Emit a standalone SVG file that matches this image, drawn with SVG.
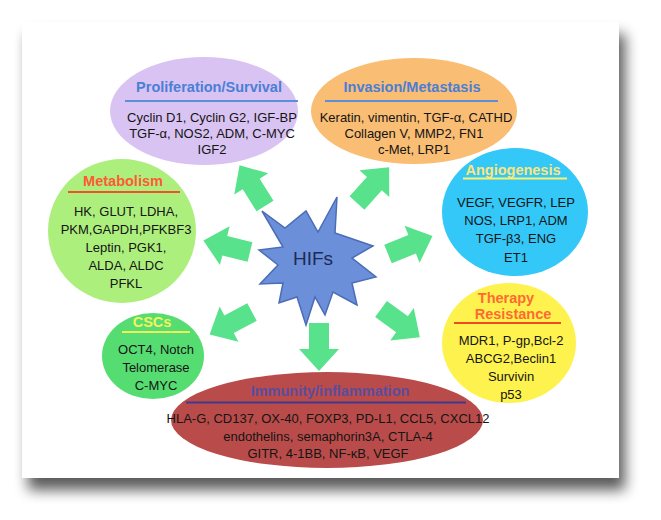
<svg xmlns="http://www.w3.org/2000/svg" width="661" height="520" viewBox="0 0 661 520">
<defs>
<style>
.t{font-family:"Liberation Sans",Arial,sans-serif;font-size:14.5px;font-weight:bold;text-anchor:middle}
.b{font-family:"Liberation Sans",Arial,sans-serif;font-size:13px;text-anchor:middle;fill:#141414}
.ul{stroke-width:2;fill:none}
.arr{fill:#58e28c}
</style>
<filter id="sh" x="-10%" y="-10%" width="125%" height="130%">
<feGaussianBlur in="SourceAlpha" stdDeviation="7"/>
<feOffset dx="6" dy="12" result="o"/>
<feComponentTransfer><feFuncA type="linear" slope="0.65"/></feComponentTransfer>
<feMerge><feMergeNode/><feMergeNode in="SourceGraphic"/></feMerge>
</filter>
<path id="arrow" d="M0,-10 L26,-10 L26,-20 L48,0 L26,20 L26,10 L0,10 Z"/>
</defs>
<rect width="661" height="520" fill="#ffffff"/>
<rect x="22" y="22" width="597" height="456" fill="#ffffff" filter="url(#sh)"/>

<g id="connectors" class="arr">
<use href="#arrow" transform="translate(265,206) rotate(-122)"/>
<use href="#arrow" transform="translate(357,203) rotate(-48)"/>
<use href="#arrow" transform="translate(250,252) rotate(-166)"/>
<use href="#arrow" transform="translate(388,254) rotate(-22)"/>
<use href="#arrow" transform="translate(252,312) rotate(152)"/>
<use href="#arrow" transform="translate(319,323) rotate(90)"/>
<use href="#arrow" transform="translate(381,309) rotate(36)"/>
</g>

<g id="proliferation">
<ellipse cx="204" cy="111" rx="94" ry="54" fill="#d9c3f3"/>
<text class="t" x="209" y="92" fill="#4a7fd6">Proliferation/Survival</text>
<line class="ul" x1="125" y1="101" x2="298" y2="101" stroke="#5b8fd8"/>
<text class="b" x="212" y="121.5">Cyclin D1, Cyclin G2, IGF-BP</text>
<text class="b" x="212" y="137.5">TGF-α, NOS2, ADM, C-MYC</text>
<text class="b" x="212" y="154">IGF2</text>
</g>

<g id="invasion">
<ellipse cx="414" cy="111" rx="103" ry="53" fill="#f9bd73"/>
<text class="t" x="412" y="92" fill="#4a7fd6">Invasion/Metastasis</text>
<line class="ul" x1="325" y1="101" x2="498" y2="101" stroke="#5b8fd8"/>
<text class="b" x="416" y="121.5">Keratin, vimentin, TGF-α, CATHD</text>
<text class="b" x="414" y="137.5">Collagen V, MMP2, FN1</text>
<text class="b" x="414" y="153.5">c-Met, LRP1</text>
</g>

<g id="angiogenesis">
<ellipse cx="515" cy="212" rx="73" ry="64" fill="#33c8f8"/>
<text class="t" x="513" y="175" fill="#ffe47a">Angiogenesis</text>
<line class="ul" x1="463" y1="178.5" x2="567" y2="178.5" stroke="#fff06a"/>
<text class="b" x="516" y="206.5">VEGF, VEGFR, LEP</text>
<text class="b" x="516" y="224.5">NOS, LRP1, ADM</text>
<text class="b" x="516" y="242.5">TGF-β3, ENG</text>
<text class="b" x="516" y="261.5">ET1</text>
</g>

<g id="therapy">
<ellipse cx="509" cy="343" rx="67" ry="60" fill="#fef34e"/>
<text class="t" x="506" y="303" font-size="13.5" fill="#ff6a33">Therapy</text>
<text class="t" x="513" y="318.5" font-size="13.5" fill="#ff6a33">Resistance</text>
<line class="ul" x1="454" y1="323" x2="561" y2="323" stroke="#f04a20"/>
<text class="b" x="511" y="344.5">MDR1, P-gp,Bcl-2</text>
<text class="b" x="511" y="362.5">ABCG2,Beclin1</text>
<text class="b" x="511" y="381">Survivin</text>
<text class="b" x="511" y="399">p53</text>
</g>

<g id="metabolism">
<ellipse cx="122" cy="231" rx="74" ry="72" fill="#adef7d"/>
<text class="t" x="123" y="186" fill="#ff5a36">Metabolism</text>
<line class="ul" x1="68" y1="192" x2="180" y2="192" stroke="#f2502a"/>
<text class="b" x="126" y="215.5">HK, GLUT, LDHA,</text>
<text class="b" x="126" y="233.5">PKM,GAPDH,PFKBF3</text>
<text class="b" x="126" y="251.5">Leptin, PGK1,</text>
<text class="b" x="126" y="269.5">ALDA, ALDC</text>
<text class="b" x="126" y="287.5">PFKL</text>
</g>

<g id="cscs">
<ellipse cx="153" cy="356" rx="51" ry="43" fill="#56dd72"/>
<text class="t" x="152" y="327" fill="#f4f35a">CSCs</text>
<line class="ul" x1="122" y1="332" x2="190" y2="332" stroke="#eef05a"/>
<text class="b" x="156" y="353.5">OCT4, Notch</text>
<text class="b" x="156" y="371.5">Telomerase</text>
<text class="b" x="156" y="390">C-MYC</text>
</g>

<g id="immunity">
<ellipse cx="327" cy="420" rx="156" ry="48" fill="#b94c4a"/>
<text class="t" x="330" y="396" fill="#5b4c9e">Immunity/inflammation</text>
<line class="ul" x1="186" y1="402.5" x2="466" y2="402.5" stroke="#3f3a8c"/>
<text class="b" x="328" y="422.5" font-size="12.5">HLA-G, CD137, OX-40, FOXP3, PD-L1, CCL5, CXCL12</text>
<text class="b" x="328" y="440.5">endothelins, semaphorin3A, CTLA-4</text>
<text class="b" x="328" y="458">GITR, 4-1BB, NF-κB, VEGF</text>
</g>

<g id="hifs">
<polygon points="262,211 285,228 306,211 318,232 337,197 335,233 373,246 352,258 376,277 352,283 357,305 333,292 325,315 315,297 306,325 297,297 279,303 283,283 260,284 278,265 259,250 283,247" fill="#6b8fd9" stroke="#4b6cb7" stroke-width="1.5" stroke-linejoin="miter"/>
<text x="313" y="265" font-family="Liberation Sans, Arial, sans-serif" font-size="19" text-anchor="middle" fill="#1c2a55">HIFs</text>
</g>
</svg>
